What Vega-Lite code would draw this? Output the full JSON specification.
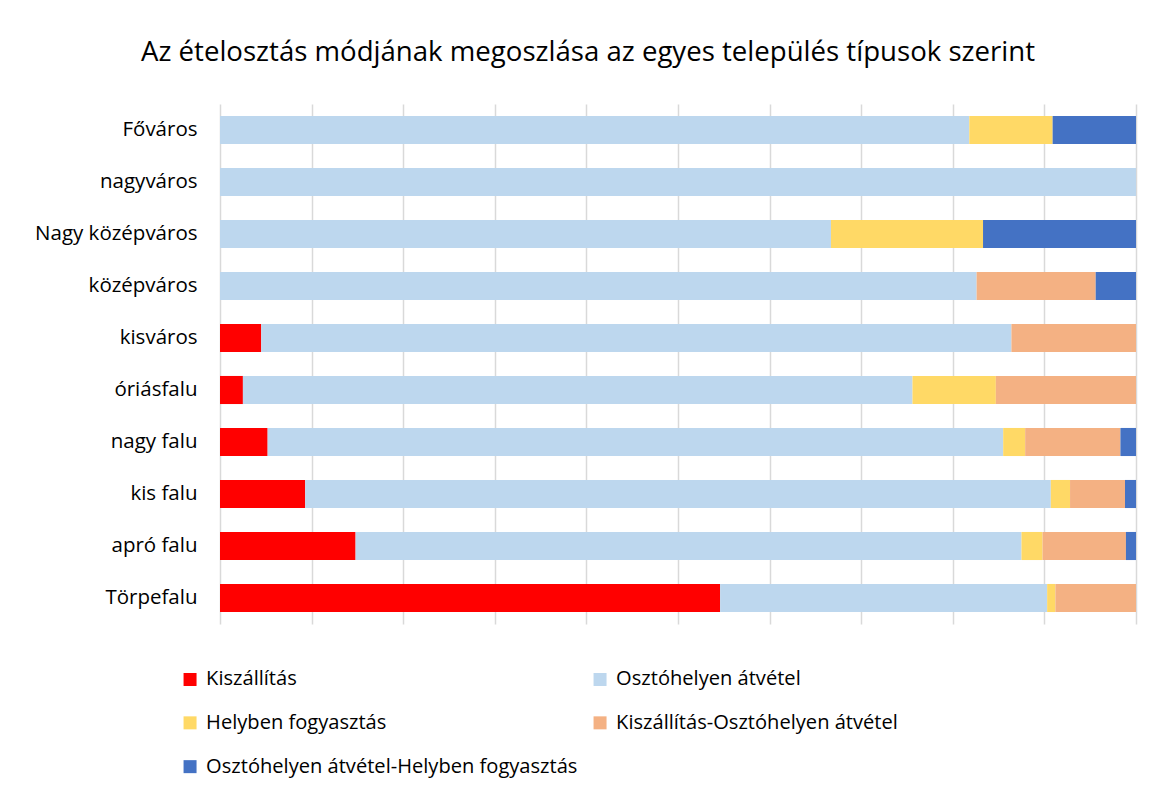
{
  "$schema": "https://vega.github.io/schema/vega-lite/v6.json",
  "autosize": "none",
  "width": 916,
  "height": 520,
  "padding": {"left": 220, "top": 104, "right": 18, "bottom": 170},
  "background": "white",
  "config": {"view": {"stroke": null}, "font": "Open Sans"},
  "title": {
    "text": "Az ételosztás módjának megoszlása az egyes település típusok szerint",
    "font": "Open Sans",
    "fontSize": 27.6,
    "fontWeight": "normal",
    "color": "#000000",
    "anchor": "middle",
    "dx": -90,
    "baseline": "alphabetic",
    "offset": 15
  },
  "datasets": {
    "modok": [
      {"mod": "Kiszállítás", "sorrend": 1},
      {"mod": "Osztóhelyen átvétel", "sorrend": 2},
      {"mod": "Helyben fogyasztás", "sorrend": 3},
      {"mod": "Kiszállítás-Osztóhelyen átvétel", "sorrend": 4},
      {"mod": "Osztóhelyen átvétel-Helyben fogyasztás", "sorrend": 5}
    ]
  },
  "data": {
    "values": [
      {"telepules": "Főváros", "mod": "Osztóhelyen átvétel", "arany": 81.8},
      {"telepules": "Főváros", "mod": "Helyben fogyasztás", "arany": 9.1},
      {"telepules": "Főváros", "mod": "Osztóhelyen átvétel-Helyben fogyasztás", "arany": 9.1},
      {"telepules": "nagyváros", "mod": "Osztóhelyen átvétel", "arany": 100},
      {"telepules": "Nagy középváros\u00a0", "mod": "Osztóhelyen átvétel", "arany": 66.7},
      {"telepules": "Nagy középváros\u00a0", "mod": "Helyben fogyasztás", "arany": 16.6},
      {"telepules": "Nagy középváros\u00a0", "mod": "Osztóhelyen átvétel-Helyben fogyasztás", "arany": 16.7},
      {"telepules": "középváros", "mod": "Osztóhelyen átvétel", "arany": 82.6},
      {"telepules": "középváros", "mod": "Kiszállítás-Osztóhelyen átvétel", "arany": 13.0},
      {"telepules": "középváros", "mod": "Osztóhelyen átvétel-Helyben fogyasztás", "arany": 4.4},
      {"telepules": "kisváros", "mod": "Kiszállítás", "arany": 4.5},
      {"telepules": "kisváros", "mod": "Osztóhelyen átvétel", "arany": 81.9},
      {"telepules": "kisváros", "mod": "Kiszállítás-Osztóhelyen átvétel", "arany": 13.6},
      {"telepules": "óriásfalu", "mod": "Kiszállítás", "arany": 2.5},
      {"telepules": "óriásfalu", "mod": "Osztóhelyen átvétel", "arany": 73.1},
      {"telepules": "óriásfalu", "mod": "Helyben fogyasztás", "arany": 9.1},
      {"telepules": "óriásfalu", "mod": "Kiszállítás-Osztóhelyen átvétel", "arany": 15.3},
      {"telepules": "nagy falu", "mod": "Kiszállítás", "arany": 5.2},
      {"telepules": "nagy falu", "mod": "Osztóhelyen átvétel", "arany": 80.3},
      {"telepules": "nagy falu", "mod": "Helyben fogyasztás", "arany": 2.4},
      {"telepules": "nagy falu", "mod": "Kiszállítás-Osztóhelyen átvétel", "arany": 10.4},
      {"telepules": "nagy falu", "mod": "Osztóhelyen átvétel-Helyben fogyasztás", "arany": 1.7},
      {"telepules": "kis falu", "mod": "Kiszállítás", "arany": 9.3},
      {"telepules": "kis falu", "mod": "Osztóhelyen átvétel", "arany": 81.4},
      {"telepules": "kis falu", "mod": "Helyben fogyasztás", "arany": 2.1},
      {"telepules": "kis falu", "mod": "Kiszállítás-Osztóhelyen átvétel", "arany": 6.0},
      {"telepules": "kis falu", "mod": "Osztóhelyen átvétel-Helyben fogyasztás", "arany": 1.2},
      {"telepules": "apró falu", "mod": "Kiszállítás", "arany": 14.8},
      {"telepules": "apró falu", "mod": "Osztóhelyen átvétel", "arany": 72.7},
      {"telepules": "apró falu", "mod": "Helyben fogyasztás", "arany": 2.3},
      {"telepules": "apró falu", "mod": "Kiszállítás-Osztóhelyen átvétel", "arany": 9.1},
      {"telepules": "apró falu", "mod": "Osztóhelyen átvétel-Helyben fogyasztás", "arany": 1.1},
      {"telepules": "Törpefalu\u00a0", "mod": "Kiszállítás", "arany": 54.6},
      {"telepules": "Törpefalu\u00a0", "mod": "Osztóhelyen átvétel", "arany": 35.7},
      {"telepules": "Törpefalu\u00a0", "mod": "Helyben fogyasztás", "arany": 0.9},
      {"telepules": "Törpefalu\u00a0", "mod": "Kiszállítás-Osztóhelyen átvétel", "arany": 8.8}
    ]
  },
  "transform": [
    {"lookup": "mod", "from": {"data": {"name": "modok"}, "key": "mod", "fields": ["sorrend"]}}
  ],
  "mark": {"type": "bar"},
  "encoding": {
    "y": {
      "field": "telepules",
      "type": "nominal",
      "sort": null,
      "scale": {"paddingInner": 0.46, "paddingOuter": 0.23},
      "axis": {
        "title": null,
        "domain": false,
        "ticks": false,
        "grid": false,
        "labelFont": "Open Sans",
        "labelFontSize": 20.5,
        "labelColor": "#000000",
        "labelPadding": 23,
        "labelLimit": 300
      }
    },
    "x": {
      "field": "arany",
      "type": "quantitative",
      "stack": "normalize",
      "scale": {"domain": [0, 1]},
      "axis": {
        "title": null,
        "labels": false,
        "ticks": false,
        "domain": false,
        "grid": true,
        "gridColor": "#d9d9d9",
        "gridWidth": 1.5,
        "values": [0, 0.1, 0.2, 0.3, 0.4, 0.5, 0.6, 0.7, 0.8, 0.9, 1]
      }
    },
    "order": {"field": "sorrend", "type": "quantitative", "sort": "ascending"},
    "color": {
      "field": "mod",
      "type": "nominal",
      "sort": ["Kiszállítás", "Osztóhelyen átvétel", "Helyben fogyasztás", "Kiszállítás-Osztóhelyen átvétel", "Osztóhelyen átvétel-Helyben fogyasztás"],
      "scale": {
        "domain": ["Kiszállítás", "Osztóhelyen átvétel", "Helyben fogyasztás", "Kiszállítás-Osztóhelyen átvétel", "Osztóhelyen átvétel-Helyben fogyasztás"],
        "range": ["#FF0000", "#BDD7EE", "#FFD966", "#F4B183", "#4472C4"]
      },
      "legend": {
        "title": null,
        "orient": "none",
        "direction": "horizontal",
        "legendX": -40,
        "legendY": 565,
        "columns": 2,
        "columnPadding": 12,
        "rowPadding": 22.8,
        "symbolType": "square",
        "symbolSize": 169,
        "symbolStrokeWidth": 0,
        "symbolOpacity": 1,
        "labelFont": "Open Sans",
        "labelFontSize": 20.1,
        "labelColor": "#000000",
        "labelOffset": 6,
        "labelLimit": 500
      }
    }
  }
}
